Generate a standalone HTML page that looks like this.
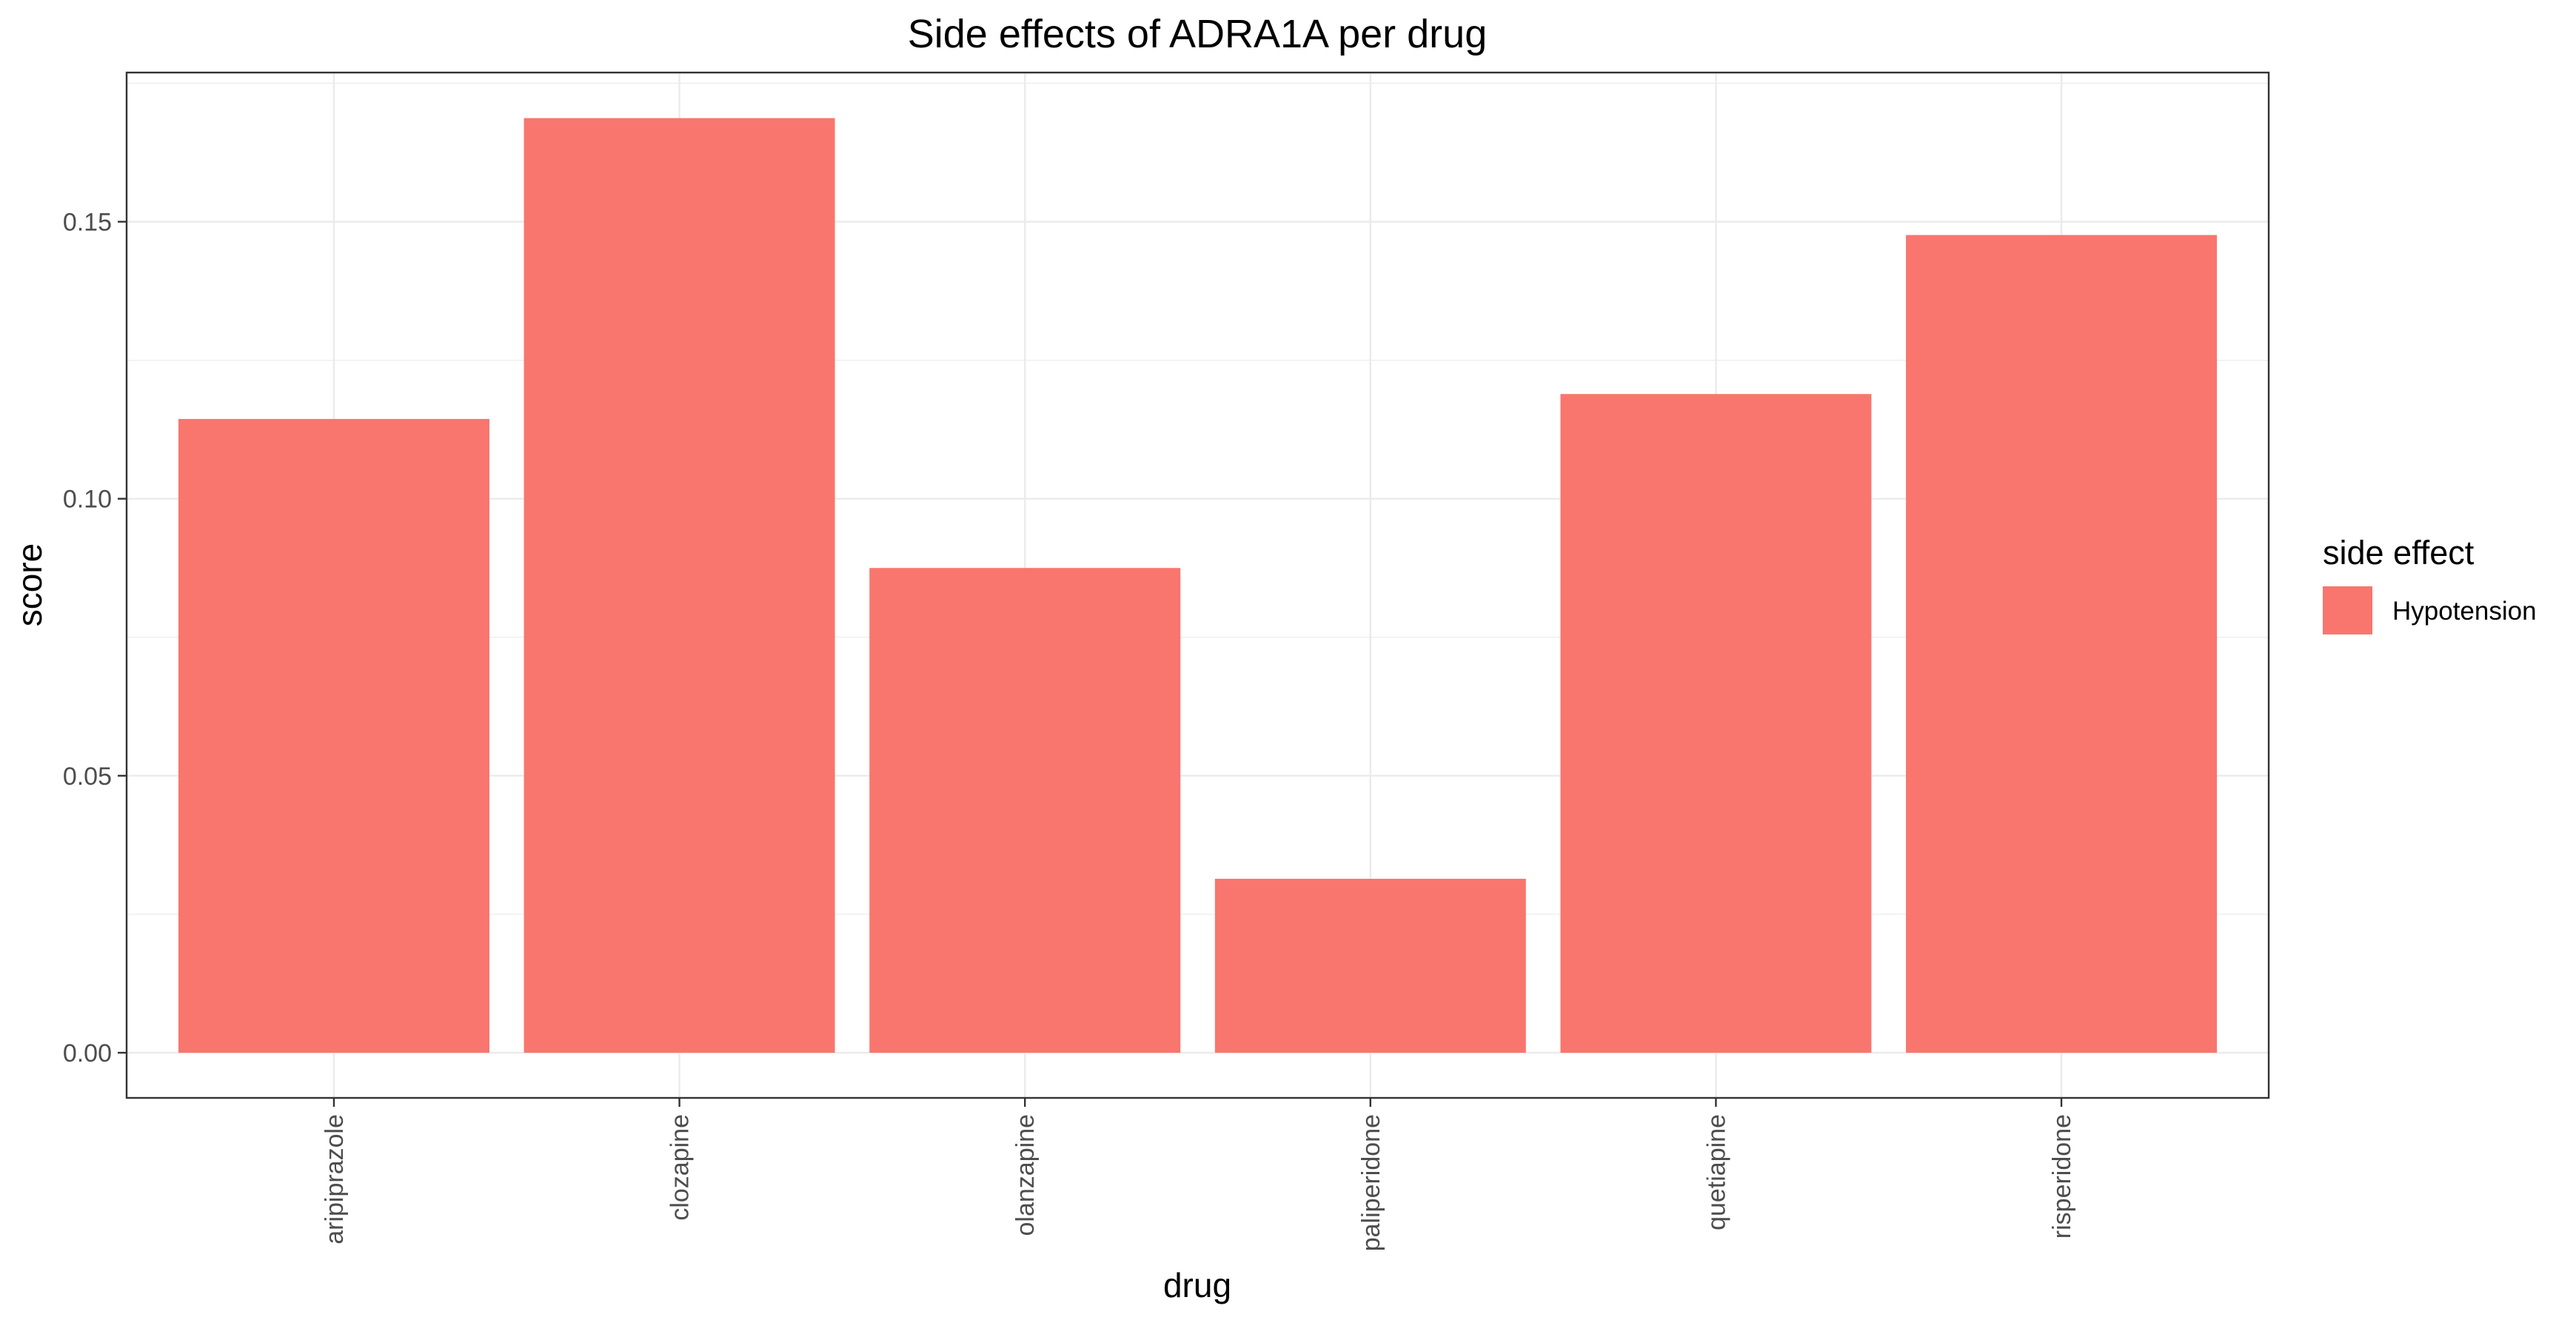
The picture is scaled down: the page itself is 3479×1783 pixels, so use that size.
<!DOCTYPE html>
<html><head><meta charset="utf-8"><style>
html,body{margin:0;padding:0;background:#fff;}
svg{display:block;font-family:"Liberation Sans",Arial,sans-serif;}
</style></head><body>
<svg id="chart" width="3479" height="1783" viewBox="0 0 3479 1783">
<text x="1617" y="64" font-size="54" text-anchor="middle" fill="#000">Side effects of ADRA1A per drug</text>
<g id="grid"></g>
<g id="bars"></g>
<rect x="171" y="98" width="2893" height="1385" fill="none" stroke="#333" stroke-width="2.4"/>
<g id="axes"></g>
<text transform="translate(56,790) rotate(-90)" font-size="46" text-anchor="middle" fill="#000">score</text>
<text x="1617" y="1752" font-size="46" text-anchor="middle" fill="#000">drug</text>
<g>
<text x="3137" y="762" font-size="45" fill="#000">side effect</text>
<rect x="3137" y="792" width="67" height="65" fill="#F8766D"/>
<text x="3231" y="837" font-size="35" fill="#000">Hypotension</text>
</g>
</svg>
<script>
const categories = ["aripiprazole","clozapine","olanzapine","paliperidone","quetiapine","risperidone"];
const scores = [0.1144, 0.1687, 0.0875, 0.0314, 0.1189, 0.1476];
const yTicks = [0, 0.05, 0.10, 0.15];
const yTickLabels = ["0.00","0.05","0.10","0.15"];
const yMinor = [0.025, 0.075, 0.125, 0.175];

const NS = "http://www.w3.org/2000/svg";
const L = 171, R = 3064, T = 98, B = 1483;
const y0px = 1422, y15px = 299.5;
function yScale(v){ return y0px - v * (y0px - y15px) / 0.15; }
const unit = (R - L) / (categories.length + 0.2);
function xScale(i){ return L + (i + 0.6) * unit; }
function mk(tag, attrs, parent){ const e = document.createElementNS(NS, tag); for (const k in attrs) e.setAttribute(k, attrs[k]); parent.appendChild(e); return e; }

const grid = document.getElementById('grid');
const bars = document.getElementById('bars');
const axes = document.getElementById('axes');

yMinor.forEach(v => { const y = yScale(v); if (y < T) return;
  const l = mk('line', {x1:L, x2:R, y1:y, y2:y, stroke:'#ebebeb', 'stroke-width':1.2}, grid);
  
  
});
yTicks.forEach((v, i) => { const y = yScale(v);
  const l = mk('line', {x1:L, x2:R, y1:y, y2:y, stroke:'#ebebeb', 'stroke-width':2.4}, grid);
  
  
  const t = mk('line', {x1:L-12, x2:L, y1:y, y2:y, stroke:'#333', 'stroke-width':2.4}, axes);
  
  
  const tx = mk('text', {x:L-20, y:y+12, 'font-size':34, 'text-anchor':'end', fill:'#4d4d4d'}, axes);
  tx.textContent = yTickLabels[i];
  
  
});
categories.forEach((c, i) => { const x = xScale(i);
  const g = mk('line', {x1:x, x2:x, y1:T, y2:B, stroke:'#ebebeb', 'stroke-width':2.4}, grid);
  
  
  const w = 0.9 * unit, top = yScale(scores[i]);
  const r = mk('rect', {x:x - w/2, y:top, width:w, height:yScale(0) - top, fill:'#F8766D'}, bars);
  
  
  const t = mk('line', {x1:x, x2:x, y1:B, y2:B+12, stroke:'#333', 'stroke-width':2.4}, axes);
  
  
  const tx = mk('text', {transform:'translate(' + (x+12) + ',' + (B+22) + ') rotate(-90)', 'font-size':34, 'text-anchor':'end', fill:'#4d4d4d'}, axes);
  tx.textContent = c;
  
  
});
</script>
</body></html>
